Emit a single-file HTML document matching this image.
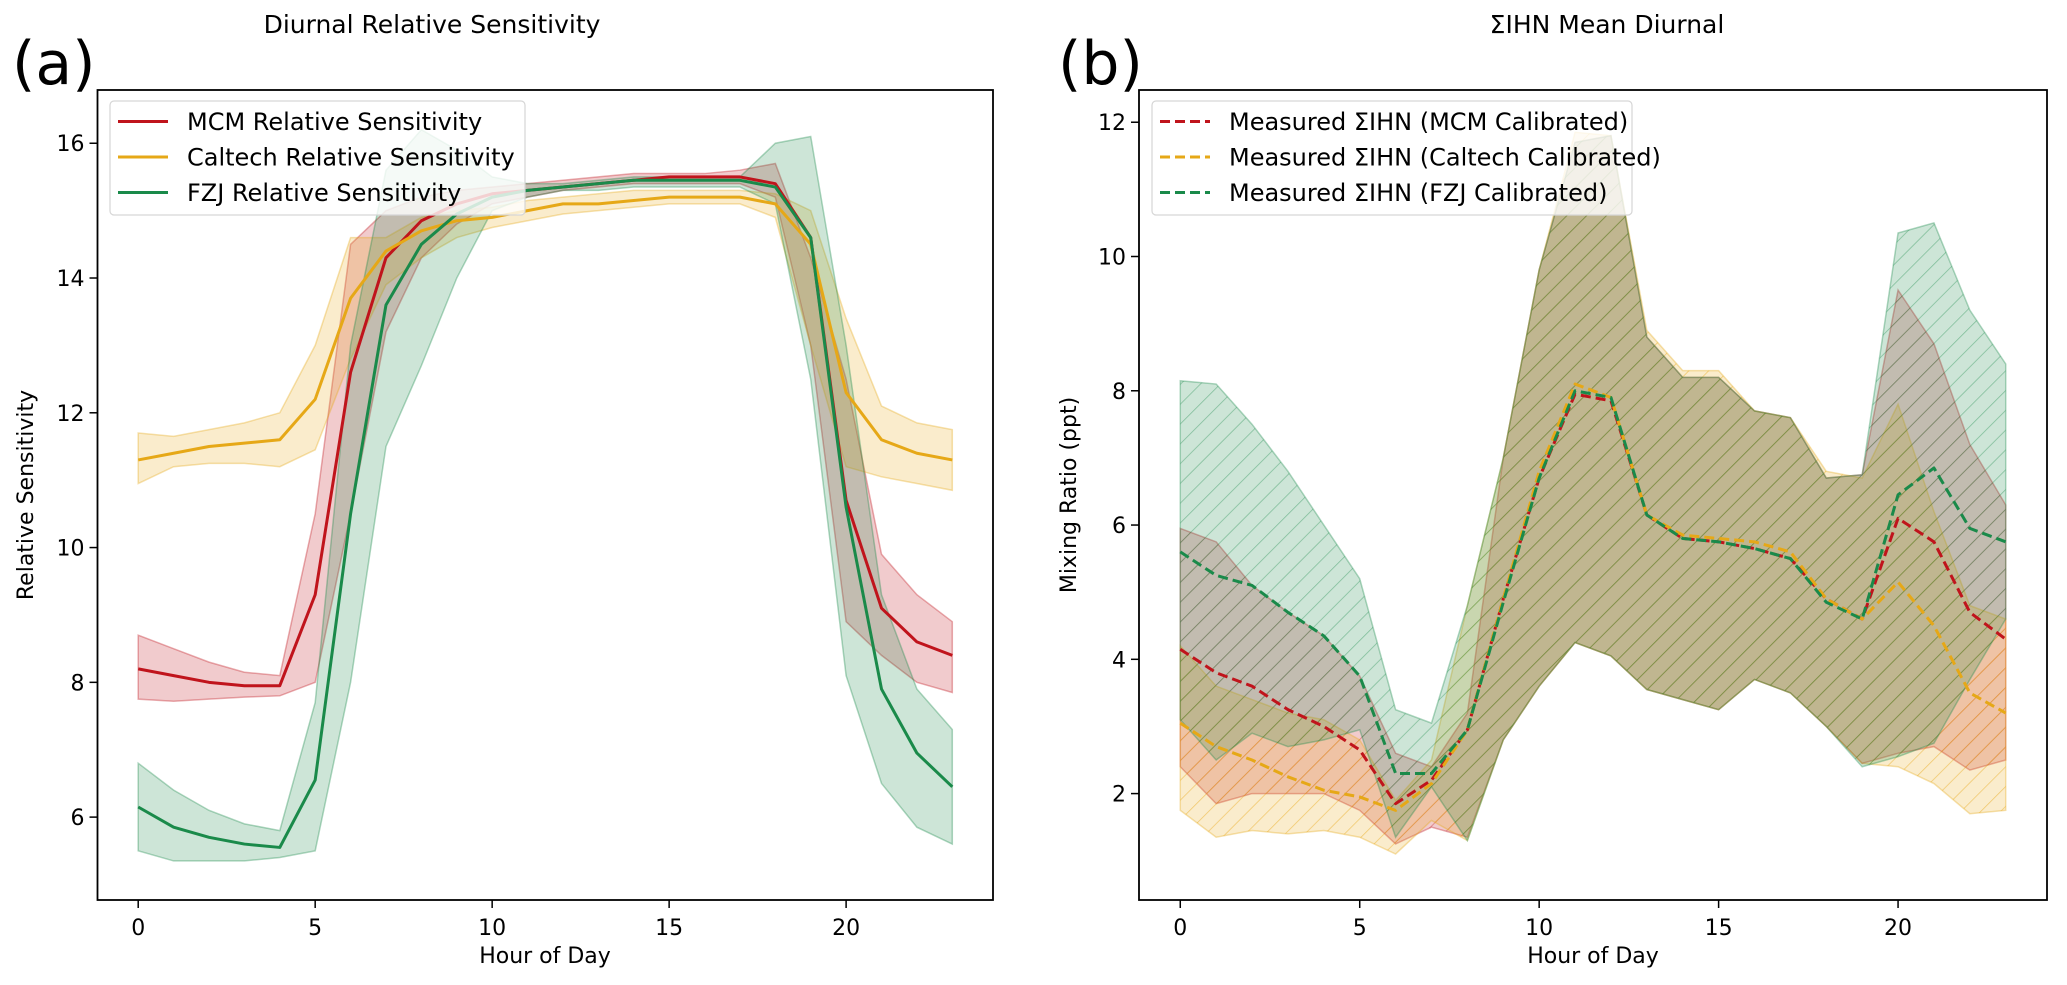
<!DOCTYPE html>
<html><head><meta charset="utf-8">
<style>
html,body{margin:0;padding:0;background:#fff;}
svg{display:block;font-family:"DejaVu Sans","Liberation Sans",sans-serif;}
</style></head>
<body>
<svg id="fig" width="2067" height="985" viewBox="0 0 2067 985" xmlns="http://www.w3.org/2000/svg">
<defs>
<pattern id="hatch-red" patternUnits="userSpaceOnUse" width="14" height="14" patternTransform="rotate(45)"><line x1="0" y1="0" x2="0" y2="14" stroke="#c0141c" stroke-opacity="0.45" stroke-width="1.5"/></pattern>
<pattern id="hatch-orange" patternUnits="userSpaceOnUse" width="14" height="14" patternTransform="rotate(45)"><line x1="0" y1="0" x2="0" y2="14" stroke="#e6a817" stroke-opacity="0.55" stroke-width="1.5"/></pattern>
<pattern id="hatch-green" patternUnits="userSpaceOnUse" width="14" height="14" patternTransform="rotate(45)"><line x1="0" y1="0" x2="0" y2="14" stroke="#1a8a4a" stroke-opacity="0.45" stroke-width="1.5"/></pattern>
</defs>
<g id="left"></g>
<g id="right"></g>
</svg>
<script>
const hours = [0,1,2,3,4,5,6,7,8,9,10,11,12,13,14,15,16,17,18,19,20,21,22,23];
// Left panel: relative sensitivity
const mcmSens = [8.2,8.1,8.0,7.95,7.95,9.3,12.6,14.3,14.85,15.1,15.25,15.3,15.35,15.4,15.45,15.5,15.5,15.5,15.4,14.6,10.7,9.1,8.6,8.4];
const mcmSensLo = [7.75,7.72,7.75,7.78,7.8,8.0,10.5,13.2,14.3,14.8,15.1,15.2,15.3,15.35,15.4,15.4,15.4,15.4,15.2,13.0,8.9,8.4,8.0,7.85];
const mcmSensHi = [8.7,8.5,8.3,8.15,8.1,10.5,14.5,15.0,15.2,15.3,15.35,15.4,15.45,15.5,15.55,15.55,15.55,15.6,15.7,14.3,12.5,9.9,9.3,8.9];
const calSens = [11.3,11.4,11.5,11.55,11.6,12.2,13.7,14.4,14.7,14.85,14.9,15.0,15.1,15.1,15.15,15.2,15.2,15.2,15.1,14.5,12.3,11.6,11.4,11.3];
const calSensLo = [10.95,11.2,11.25,11.25,11.2,11.45,12.8,13.9,14.3,14.6,14.75,14.85,14.95,15.0,15.05,15.1,15.1,15.1,14.9,13.0,11.2,11.05,10.95,10.85];
const calSensHi = [11.7,11.65,11.75,11.85,12.0,13.0,14.6,14.6,14.9,15.0,15.05,15.15,15.2,15.25,15.3,15.3,15.3,15.3,15.25,15.0,13.4,12.1,11.85,11.75];
const fzjSens = [6.15,5.85,5.7,5.6,5.55,6.55,10.5,13.6,14.5,14.95,15.2,15.3,15.35,15.4,15.45,15.45,15.45,15.45,15.35,14.6,10.6,7.9,6.95,6.45];
const fzjSensLo = [5.5,5.35,5.35,5.35,5.4,5.5,8.0,11.5,12.7,14.0,15.0,15.2,15.3,15.3,15.35,15.35,15.35,15.35,15.1,12.5,8.1,6.5,5.85,5.6];
const fzjSensHi = [6.8,6.4,6.1,5.9,5.8,7.7,13.0,15.6,16.2,15.9,15.5,15.4,15.4,15.45,15.5,15.5,15.5,15.5,16.0,16.1,13.0,9.3,7.9,7.3];
// Right panel: mixing ratio
const mcmMix = [4.15,3.8,3.6,3.25,3.0,2.65,1.85,2.2,2.95,4.9,6.7,7.95,7.85,6.15,5.8,5.75,5.65,5.5,4.9,4.6,6.1,5.75,4.7,4.3];
const mcmMixLo = [2.4,1.85,2.0,2.0,2.0,1.75,1.25,1.5,1.35,2.8,3.6,4.25,4.05,3.55,3.4,3.25,3.7,3.5,3.0,2.45,2.6,2.7,2.35,2.5];
const mcmMixHi = [5.95,5.75,5.1,4.7,4.35,3.75,2.6,2.4,3.2,7.0,9.8,11.7,11.8,8.8,8.2,8.2,7.7,7.6,6.7,6.75,9.5,8.7,7.2,6.3];
const calMix = [3.05,2.7,2.5,2.25,2.05,1.95,1.75,2.15,2.95,4.9,6.8,8.1,7.9,6.15,5.85,5.8,5.75,5.6,4.9,4.6,5.15,4.5,3.5,3.2];
const calMixLo = [1.75,1.35,1.45,1.4,1.45,1.35,1.1,1.6,1.3,2.8,3.6,4.25,4.05,3.55,3.4,3.25,3.7,3.5,3.0,2.45,2.4,2.15,1.7,1.75];
const calMixHi = [4.2,3.6,3.4,3.2,3.1,2.8,1.9,2.5,4.8,7.0,9.8,11.85,11.8,8.9,8.3,8.3,7.7,7.6,6.8,6.7,7.8,6.2,4.8,4.6];
const fzjMix = [5.6,5.25,5.1,4.7,4.35,3.75,2.3,2.3,2.95,4.85,6.7,8.0,7.9,6.15,5.8,5.75,5.65,5.5,4.85,4.6,6.45,6.85,5.95,5.75];
const fzjMixLo = [3.1,2.5,2.9,2.7,2.8,2.95,1.35,2.1,1.3,2.8,3.6,4.25,4.05,3.55,3.4,3.25,3.7,3.5,3.0,2.4,2.55,2.75,3.7,4.6];
const fzjMixHi = [8.15,8.1,7.5,6.8,6.0,5.2,3.25,3.05,4.8,7.0,9.8,11.7,11.8,8.8,8.2,8.2,7.7,7.6,6.7,6.75,10.35,10.5,9.2,8.4];
const xTicks = [0,5,10,15,20];
const leftYTicks = [6,8,10,12,14,16];
const rightYTicks = [2,4,6,8,10,12];

const NS = "http://www.w3.org/2000/svg";
const RED="#c0141c", ORANGE="#e6a817", GREEN="#1a8a4a";
function mk(parent, tag, attrs){const e=document.createElementNS(NS,tag);for(const k in attrs)e.setAttribute(k,attrs[k]);parent.appendChild(e);return e;}

function panel(g, box, xlim, ylim){
  const sx = v => box.l + (v - xlim[0])/(xlim[1]-xlim[0])*(box.r-box.l);
  const sy = v => box.b - (v - ylim[0])/(ylim[1]-ylim[0])*(box.b-box.t);
  return {sx, sy};
}

function drawAxes(g, box, ax, yTicks, prefix){
  const frame = mk(g,'rect',{x:box.l,y:box.t,width:box.r-box.l,height:box.b-box.t,fill:'none',stroke:'#000','stroke-width':1.8});
  
  
  xTicks.forEach(t=>{
    const x=ax.sx(t);
    const tk=mk(g,'line',{x1:x,y1:box.b,x2:x,y2:box.b+8,stroke:'#000','stroke-width':1.5});
    
    
    const lb=mk(g,'text',{x:x,y:box.b+35,'text-anchor':'middle','font-size':22,fill:'#000'});
    lb.textContent=t;
    
    
  });
  yTicks.forEach(t=>{
    const y=ax.sy(t);
    const tk=mk(g,'line',{x1:box.l-8,y1:y,x2:box.l,y2:y,stroke:'#000','stroke-width':1.5});
    
    
    const lb=mk(g,'text',{x:box.l-13,y:y+8,'text-anchor':'end','font-size':22,fill:'#000'});
    lb.textContent=t;
    
    
  });
}

function band(g, ax, lo, hi, color, name, hatch){
  let d='M'+hours.map((h,i)=>ax.sx(h)+','+ax.sy(hi[i])).join(' L');
  d+=' L'+hours.slice().reverse().map((h)=>ax.sx(h)+','+ax.sy(lo[h])).join(' L')+' Z';
  const p=mk(g,'path',{d:d,fill:color,'fill-opacity':0.22,stroke:color,'stroke-opacity':0.35,'stroke-width':1.5});
  
  
  if(hatch){
    const h=mk(g,'path',{d:d,fill:'url(#'+hatch+')',stroke:'none'});
    
    
  }
}
function line(g, ax, vals, color, name, dashed){
  const pts=hours.map((h,i)=>ax.sx(h)+','+ax.sy(vals[i])).join(' ');
  const a={points:pts,fill:'none',stroke:color,'stroke-width':3,'stroke-linejoin':'round'};
  if(dashed) a['stroke-dasharray']='10,5';
  const p=mk(g,'polyline',a);
  
  
}
function legend(g, x, y, w, labels, colors, dashed, prefix){
  const r=mk(g,'rect',{x:x,y:y,width:w,height:114,rx:4,fill:'#fff','fill-opacity':0.8,stroke:'#d6d6d6','stroke-width':1.2});
  
  
  labels.forEach((lab,i)=>{
    const yy=y+20.5+i*35.5;
    const a={x1:x+8,y1:yy,x2:x+58,y2:yy,stroke:colors[i],'stroke-width':3};
    if(dashed)a['stroke-dasharray']='10,5';
    const l=mk(g,'line',a);
    
    
    const t=mk(g,'text',{x:x+77,y:yy+8.5,'font-size':24,fill:'#000'});
    t.textContent=lab;
    
    
  });
}
function text(g, x, y, s, size, name, extra){
  const a=Object.assign({x:x,y:y,'font-size':size,fill:'#000'},extra||{});
  const t=mk(g,'text',a); t.textContent=s;
  
  
  return t;
}

// Left panel
const gl=document.getElementById('left');
const boxL={l:97.5,r:993,t:90,b:900};
const axL=panel(gl,boxL,[-1.15,24.15],[4.77,16.79]);
band(gl,axL,mcmSensLo,mcmSensHi,RED,'mcm-sensitivity-band');
band(gl,axL,calSensLo,calSensHi,ORANGE,'caltech-sensitivity-band');
band(gl,axL,fzjSensLo,fzjSensHi,GREEN,'fzj-sensitivity-band');
line(gl,axL,mcmSens,RED,'mcm-sensitivity-line');
line(gl,axL,calSens,ORANGE,'caltech-sensitivity-line');
line(gl,axL,fzjSens,GREEN,'fzj-sensitivity-line');
drawAxes(gl,boxL,axL,leftYTicks,'left');
legend(gl,110,101,415,['MCM Relative Sensitivity','Caltech Relative Sensitivity','FZJ Relative Sensitivity'],[RED,ORANGE,GREEN],false,'left');
text(gl,432,33,'Diurnal Relative Sensitivity',25,'left-title',{'text-anchor':'middle'});
text(gl,12,84,'(a)',60,'panel-a-label');
text(gl,545,963,'Hour of Day',22,'left-x-axis-title',{'text-anchor':'middle'});
text(gl,0,0,'Relative Sensitivity',22,'left-y-axis-title',{'text-anchor':'middle',transform:'translate(33,495) rotate(-90)'});

// Right panel
const gr=document.getElementById('right');
const boxR={l:1139,r:2047,t:90,b:900};
const axR=panel(gr,boxR,[-1.15,24.15],[0.415,12.48]);
band(gr,axR,mcmMixLo,mcmMixHi,RED,'mcm-mixing-band','hatch-red');
band(gr,axR,calMixLo,calMixHi,ORANGE,'caltech-mixing-band','hatch-orange');
band(gr,axR,fzjMixLo,fzjMixHi,GREEN,'fzj-mixing-band','hatch-green');
line(gr,axR,mcmMix,RED,'mcm-mixing-line',true);
line(gr,axR,calMix,ORANGE,'caltech-mixing-line',true);
line(gr,axR,fzjMix,GREEN,'fzj-mixing-line',true);
drawAxes(gr,boxR,axR,rightYTicks,'right');
legend(gr,1152,101,480,['Measured ΣIHN (MCM Calibrated)','Measured ΣIHN (Caltech Calibrated)','Measured ΣIHN (FZJ Calibrated)'],[RED,ORANGE,GREEN],true,'right');
text(gr,1607,33,'ΣIHN Mean Diurnal',25,'right-title',{'text-anchor':'middle'});
text(gr,1058,84,'(b)',60,'panel-b-label');
text(gr,1593,963,'Hour of Day',22,'right-x-axis-title',{'text-anchor':'middle'});
text(gr,0,0,'Mixing Ratio (ppt)',22,'right-y-axis-title',{'text-anchor':'middle',transform:'translate(1076,495) rotate(-90)'});
</script>
</body></html>
